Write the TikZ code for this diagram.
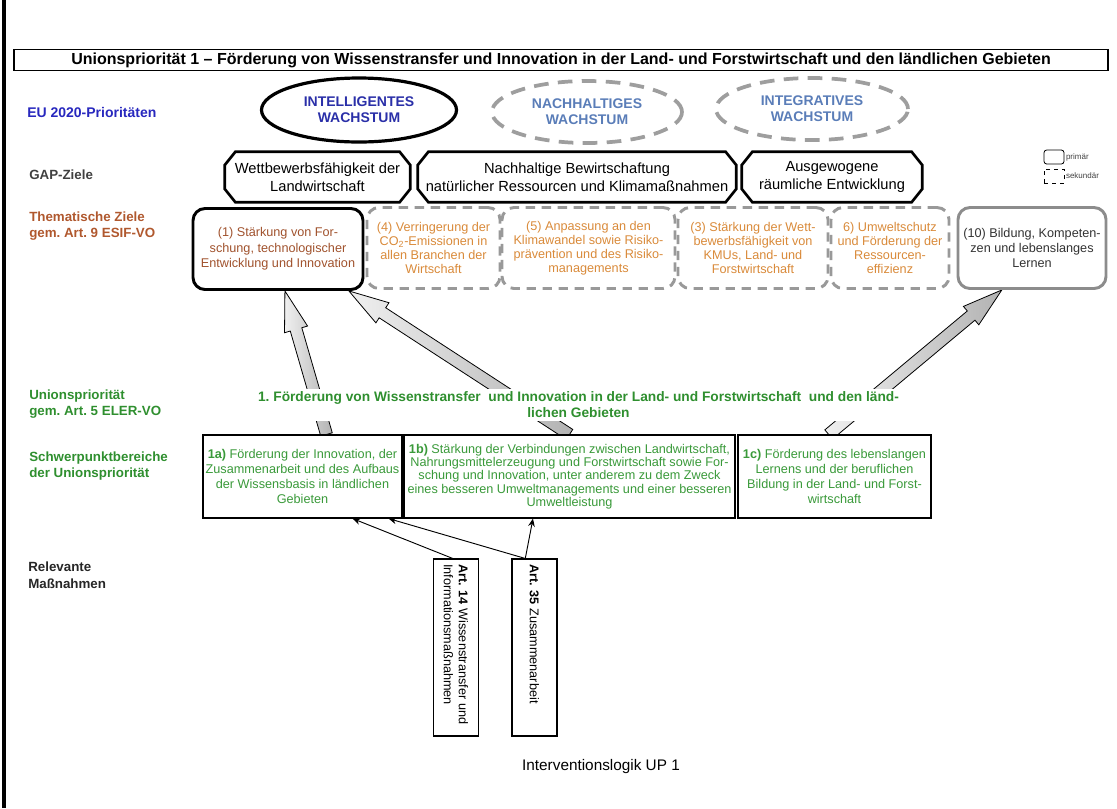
\documentclass[tikz,border=0pt]{standalone}
\usepackage{fontspec}
\setmainfont{Liberation Sans}
\usetikzlibrary{calc,arrows.meta,backgrounds,shapes.geometric}
\frenchspacing

\definecolor{euBlue}{HTML}{2828BE}
\definecolor{intBlue}{HTML}{2A2FA8}
\definecolor{softBlue}{HTML}{5A7DB8}
\definecolor{gapGray}{HTML}{404040}
\definecolor{tzBrown}{HTML}{B0582E}
\definecolor{tzDark}{HTML}{A0522D}
\definecolor{tzOrange}{HTML}{D98A3A}
\definecolor{upGreen}{HTML}{2F8F2F}
\definecolor{boxGreen}{HTML}{3A9A3A}

% one pixel of the layout grid
\newlength{\px}
\setlength{\px}{0.75pt}

% frame of a GAP box with cut corners
\newcommand{\gapframe}[1]{%
  \draw[line width=2pt] ([xshift=8pt]#1.north west) -- ([xshift=-8pt]#1.north east)
    -- ([yshift=-10pt]#1.north east) -- ([yshift=10pt]#1.south east)
    -- ([xshift=-8pt]#1.south east) -- ([xshift=8pt]#1.south west)
    -- ([yshift=10pt]#1.south west) -- ([yshift=-10pt]#1.north west) -- cycle;}

% broad grey arrow from #1 to #2
\newcommand{\fatarrow}[2]{%
  \coordinate (fa-b) at ($(#2)!30pt!(#1)$);
  \draw[fat_arrow] ($(#1)!4.5pt!90:(#2)$) -- ($(fa-b)!4.5pt!90:(#2)$)
    -- ($(fa-b)!9pt!90:(#2)$) -- (#2) -- ($(fa-b)!9pt!-90:(#2)$)
    -- ($(fa-b)!4.5pt!-90:(#2)$) -- ($(#1)!4.5pt!-90:(#2)$) -- cycle;}

\begin{document}
\begin{tikzpicture}[x=0.75pt,y=-0.75pt,
    row_label/.style={anchor=west,align=left,inner sep=0pt,font=\bfseries\fontsize{10}{12.5}\selectfont},
    ell_prim/.style={ellipse,draw,line width=2.4pt,inner sep=0pt,align=center,font=\bfseries\fontsize{10.5}{12}\selectfont,text=intBlue},
    ell_sek/.style={ellipse,draw=black!38,line width=2.8pt,inner sep=0pt,dash pattern=on 11pt off 7pt,align=center,font=\bfseries\fontsize{10.5}{12}\selectfont,text=softBlue},
    gap_box/.style={minimum height=50\px,inner sep=0pt,align=center,font=\fontsize{11}{13.5}\selectfont},
    tz_box/.style={rounded corners=9pt,minimum height=81\px,align=center,font=\fontsize{9.5}{10.4}\selectfont,inner sep=0pt},
    tz_prim/.style={tz_box,draw,line width=2.2pt,text=tzDark,font=\fontsize{9.5}{11.5}\selectfont},
    tz_sek/.style={tz_box,draw=black!40,line width=2.2pt,dash pattern=on 7pt off 5pt,text=tzOrange},
    tz_grey/.style={tz_box,draw=black!45,line width=2.2pt,text=black!80,font=\fontsize{9.5}{11.5}\selectfont},
    sp_box/.style={draw,fill=white,line width=0.8pt,minimum height=83\px,align=center,text=boxGreen,font=\fontsize{9.5}{11.25}\selectfont,inner sep=0pt},
    art_box/.style={draw,fill=white,line width=0.8pt,rotate=-90,minimum width=177\px,minimum height=45\px,text width=125pt,align=left,font=\fontsize{9.5}{11.25}\selectfont},
    fat_arrow/.style={draw=black,line width=0.6pt,left color=gray!12,right color=gray!60},
    thin_arrow/.style={-{Stealth[length=6pt,width=5pt]},line width=0.7pt}]

    \useasboundingbox (0,0) rectangle (1117,808);
    \draw[line width=3pt] (4,0) -- (4,808);

    \node[draw,line width=0.8pt,minimum width=1094\px,minimum height=21\px,inner sep=0pt,font=\bfseries\fontsize{12}{13}\selectfont] (title) at (561,60)
        {Unionspriorität 1 – Förderung von Wissenstransfer und Innovation in der Land- und Forstwirtschaft und den ländlichen Gebieten};

    % EU 2020
    \node[row_label,text=euBlue,font=\bfseries\fontsize{10.5}{12.5}\selectfont] (l_eu) at (27,112) {EU 2020-Prioritäten};
    \node[ell_prim,minimum width=195\px,minimum height=64\px] (e1) at (359,110) {INTELLIGENTES\\WACHSTUM};
    \node[ell_sek,minimum width=190\px,minimum height=62\px] (e2) at (587,112) {NACHHALTIGES\\WACHSTUM};
    \node[ell_sek,minimum width=192\px,minimum height=62\px] (e3) at (812,109) {INTEGRATIVES\\WACHSTUM};

    % GAP
    \node[row_label,text=gapGray] (l_gap) at (29,175) {GAP-Ziele};
    \node[gap_box,minimum width=185\px] (g1) at (317.5,177) {Wettbewerbsfähigkeit der\\Landwirtschaft};
    \node[gap_box,minimum width=318\px] (g2) at (577,177) {Nachhaltige Bewirtschaftung\\natürlicher Ressourcen und Klimamaßnahmen};
    \node[gap_box,minimum width=180\px] (g3) at (832,177) {Ausgewogene\\räumliche Entwicklung};
    \gapframe{g1}
    \gapframe{g2}
    \gapframe{g3}

    % legend
    \node[draw,rounded corners=2pt,line width=0.6pt,minimum width=20\px,minimum height=14\px] (leg1) at (1054,157) {};
    \node[draw,dashed,line width=0.6pt,minimum width=20\px,minimum height=14\px] (leg2) at (1054,176) {};
    \node[anchor=west,inner sep=1pt,font=\fontsize{6}{7}\selectfont,text=black!75] (leg1t) at (leg1.east) {primär};
    \node[anchor=west,inner sep=1pt,font=\fontsize{6}{7}\selectfont,text=black!75] (leg2t) at (leg2.east) {sekundär};

    % thematic goals
    \node[row_label,text=tzBrown] (l_tz) at (29,226) {Thematische Ziele\\gem. Art. 9 ESIF-VO};
    \node[tz_prim,minimum width=170\px] (t1) at (278,249) {(1) Stärkung von For-\\schung, technologischer\\Entwicklung und Innovation};
    \node[tz_sek,minimum width=133\px] (t4) at (433.5,248) {(4) Verringerung der\\CO\textsubscript{2}-Emissionen in\\allen Branchen der\\Wirtschaft};
    \node[tz_sek,minimum width=173\px] (t5) at (588.5,248) {(5) Anpassung an den\\Klimawandel sowie Risiko-\\prävention und des Risiko-\\managements};
    \node[tz_sek,minimum width=150\px] (t3) at (753,248) {(3) Stärkung der Wett-\\bewerbsfähigkeit von\\KMUs, Land- und\\Forstwirtschaft};
    \node[tz_sek,minimum width=118\px] (t6) at (890,248) {6) Umweltschutz\\und Förderung der\\Ressourcen-\\effizienz};
    \node[tz_grey,minimum width=148\px] (t10) at (1032,248) {(10) Bildung, Kompeten-\\zen und lebenslanges\\Lernen};

    % union priority
    \node[row_label,text=upGreen] (l_up) at (29,404) {Unionspriorität\\gem. Art. 5 ELER-VO};
    \node[fill=white,align=center,text=upGreen,inner sep=2pt,font=\bfseries\fontsize{10.3}{12}\selectfont] (up) at (578.5,405)
        {1. Förderung von Wissenstransfer \ und Innovation in der Land- und Forstwirtschaft \ und den länd-\\lichen Gebieten};

    % focus areas
    \node[row_label,text=upGreen] (l_sp) at (29,466) {Schwerpunktbereiche\\der Unionspriorität};
    \node[sp_box,minimum width=199\px] (s1a) at (302.5,476.5) {\textbf{1a)} Förderung der Innovation, der\\Zusammenarbeit und des Aufbaus\\der Wissensbasis in ländlichen\\Gebieten};
    \node[sp_box,minimum width=331\px,font=\fontsize{9.5}{10}\selectfont] (s1b) at (569.5,476.5) {\textbf{1b)} Stärkung der Verbindungen zwischen Landwirtschaft,\\Nahrungsmittelerzeugung und Forstwirtschaft sowie For-\\schung und Innovation, unter anderem zu dem Zweck\\eines besseren Umweltmanagements und einer besseren\\Umweltleistung};
    \node[sp_box,minimum width=193\px] (s1c) at (834.5,476.5) {\textbf{1c)} Förderung des lebenslangen\\Lernens und der beruflichen\\Bildung in der Land- und Forst-\\wirtschaft};

    % measures
    \node[row_label,text=black!85] (l_rm) at (28,575) {Relevante\\Maßnahmen};
    \node[art_box] (art14) at (456,647.5) {\textbf{Art. 14} Wissenstransfer und\\Informationsmaßnahmen};
    \node[art_box] (art35) at (534.5,647.5) {\textbf{Art. 35} Zusammenarbeit};

    \node[font=\fontsize{11.5}{13}\selectfont] (caption) at (601,767) {Interventionslogik UP 1};

    % connectors
    \coordinate (a_s1a) at ($(s1a.north west)!0.62!(s1a.north east)$);
    \coordinate (a_t1l) at ($(t1.south west)!0.54!(t1.south east)$);
    \coordinate (a_s1b) at ($(s1b.north west)!0.5!(s1b.north east)$);
    \coordinate (a_t1r) at ($(t1.south west)!0.91!(t1.south east)$);
    \coordinate (a_s1c) at ($(s1c.north west)!0.47!(s1c.north east)$);
    \coordinate (a_t10) at ($(t10.south west)!0.3!(t10.south east)$);
    \begin{scope}[on background layer]
        \fatarrow{a_s1a}{a_t1l}
        \fatarrow{a_s1b}{a_t1r}
        \fatarrow{a_s1c}{a_t10}
    \end{scope}

    \coordinate (m14) at ($(art14.south west)!0.43!(art14.north west)$);
    \coordinate (m35) at ($(art35.south west)!0.3!(art35.north west)$);
    \draw[thin_arrow] (m14) -- ($(s1a.south west)!0.75!(s1a.south east)$);
    \draw[thin_arrow] (m35) -- ($(s1a.south west)!0.93!(s1a.south east)$);
    \draw[thin_arrow] (m35) -- ($(s1b.south west)!0.39!(s1b.south east)$);
\end{tikzpicture}
\end{document}
